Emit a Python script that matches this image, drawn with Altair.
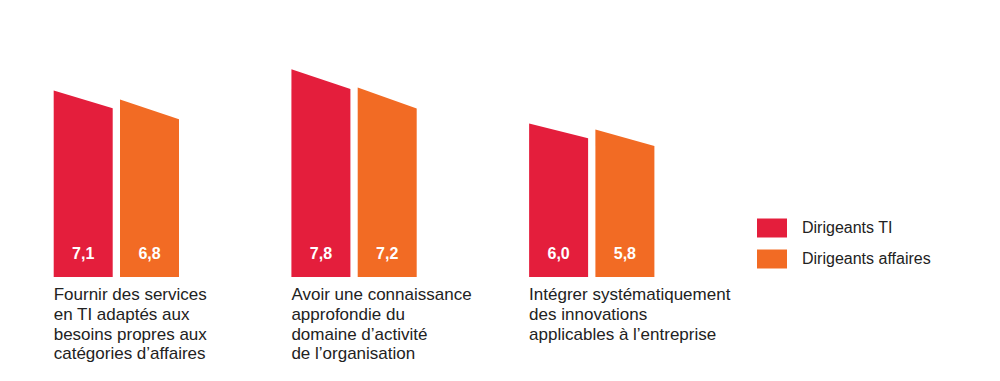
import altair as alt
import pandas as pd

# ---- data ----
categories = [
    "Fournir des services\nen TI adaptés aux\nbesoins propres aux\ncatégories d’affaires",
    "Avoir une connaissance\napprofondie du\ndomaine d’activité\nde l’organisation",
    "Intégrer systématiquement\ndes innovations\napplicables à l’entreprise",
]
series = ["Dirigeants TI", "Dirigeants affaires"]
values_ti = [7.1, 7.8, 6.0]
values_aff = [6.8, 7.2, 5.8]
colors = ["#E41E3C", "#F26B24"]

FONT = "Liberation Sans"

# ---- layout constants (style) ----
W, H = 984, 269
Y_MIN = 0.915
Y_MAX = Y_MIN + H / 30.17
X_MIN = -0.1923
X_MAX = X_MIN + W / 237.7
BAR_W = 0.2482
SERIES_STEP = 0.2789
SLANT = {"Dirigeants TI": 0.905, "Dirigeants affaires": 0.889}

# ---- build tables from the arrays ----
poly_rows, label_rows = [], []
for s_idx, (s, vals) in enumerate(zip(series, [values_ti, values_aff])):
    for g, v in enumerate(vals):
        left = g + s_idx * SERIES_STEP
        right = left + BAR_W
        right_top = Y_MIN + SLANT[s] * (v - Y_MIN)
        bar_id = f"{g}-{s_idx}"
        poly_rows.append(dict(bar=bar_id, series=s, x=left, top=v, base=Y_MIN))
        poly_rows.append(dict(bar=bar_id, series=s, x=right, top=right_top, base=Y_MIN))
        label_rows.append(dict(series=s, xc=(left + right) / 2, base=Y_MIN,
                               label=f"{v:.1f}".replace(".", ",")))
poly = pd.DataFrame(poly_rows)
labels = pd.DataFrame(label_rows)
cats = pd.DataFrame(dict(x=list(range(len(categories))), base=Y_MIN, text=categories))

xs = alt.Scale(domain=[X_MIN, X_MAX], nice=False, zero=False)
ys = alt.Scale(domain=[Y_MIN, Y_MAX], nice=False, zero=False)

bars = alt.Chart(poly).mark_area(opacity=1, interpolate="linear").encode(
    x=alt.X("x:Q", scale=xs, axis=None),
    y=alt.Y("top:Q", scale=ys, axis=None, stack=None),
    y2="base:Q",
    detail="bar:N",
    color=alt.Color(
        "series:N",
        scale=alt.Scale(domain=series, range=colors),
        legend=alt.Legend(
            title=None, orient="none", legendX=749, legendY=205,
            symbolType="M-1,-0.633L1,-0.633L1,0.633L-1,0.633Z",
            symbolSize=900, symbolStrokeWidth=0, symbolOpacity=1,
            labelFontSize=16, labelFont=FONT, labelColor="#222",
            labelOffset=15, rowPadding=6, padding=0,
        ),
    ),
)

vals = alt.Chart(labels).mark_text(
    font=FONT, fontSize=16, fontWeight="bold", color="white",
    align="center", baseline="alphabetic", dy=-18,
).encode(
    x=alt.X("xc:Q", scale=xs, axis=None),
    y=alt.Y("base:Q", scale=ys, axis=None),
    text="label:N",
)

cat_text = alt.Chart(cats).mark_text(
    font=FONT, fontSize=17, color="#222", align="left",
    baseline="alphabetic", dy=23, lineBreak="\n", lineHeight=19.8,
).encode(
    x=alt.X("x:Q", scale=xs, axis=None),
    y=alt.Y("base:Q", scale=ys, axis=None),
    text="text:N",
)

chart = alt.layer(bars, vals, cat_text).properties(
    width=W, height=H, padding=0
).configure_view(stroke=None)

chart.save("out.html", embed_options={"renderer": "svg", "actions": False})
